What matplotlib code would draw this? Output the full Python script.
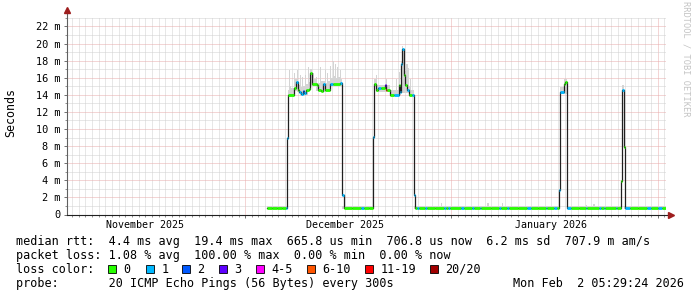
import numpy as np
import matplotlib
matplotlib.use('Agg')
import matplotlib.pyplot as plt
import matplotlib.dates as mdates
from matplotlib.collections import LineCollection
from matplotlib.patches import Rectangle
from matplotlib.ticker import FuncFormatter, MultipleLocator
import pandas as pd

plt.rcParams['font.family'] = ['DejaVu Sans Mono']

# ---------------- data ----------------
end_time = pd.Timestamp('2026-02-02 05:29:24')
start_time = end_time - pd.Timedelta(days=90)
ref_time = pd.Timestamp('2025-12-01')          # t_days are days after this instant

# median RTT (milliseconds) as steps, with number of lost pings (of 20)
t_days = [3.28, 4.0, 4.8, 5.5, 6.1, 6.33, 6.43, 7.40, 7.62, 7.88, 8.12, 8.38, 8.64, 8.90,
          9.16, 9.55, 9.74, 9.99, 10.74, 10.98, 11.34, 11.64, 11.99, 12.74, 13.2, 14.2,
          14.6, 14.8, 16.0, 17.4, 17.8, 18.6, 19.25, 19.42, 19.7, 19.95, 20.45, 20.95,
          21.12, 21.3, 21.75, 22.4, 23.1, 23.33, 23.48, 23.6, 23.82, 24.05, 24.3, 24.6,
          25.0, 25.36, 25.5, 25.8, 26.1, 27.0, 27.3, 28.5, 29.8, 30.1, 30.5, 30.7, 32.4,
          32.9, 34.1, 34.4, 35.3, 35.5, 37.0, 38.2, 38.5, 39.4, 39.6, 41.0, 42.3, 42.9,
          44.0, 45.2, 45.4, 46.4, 46.8, 47.19, 47.33, 47.88, 48.03, 48.28, 48.4, 49.0,
          50.2, 51.2, 51.4, 53.2, 53.4, 53.9, 54.1, 55.7, 55.9, 56.4, 56.55, 56.93, 57.08,
          57.8, 59.0, 60.4, 61.0, 62.0, 62.6, 63.23]
median_ms = [0.72, 0.74, 0.71, 0.73, 0.72, 8.9, 14.0, 14.8, 15.5, 14.6, 14.3, 14.05, 14.4, 14.2,
             14.6, 14.7, 16.6, 15.3, 15.1, 14.6, 14.5, 15.3, 14.6, 15.3, 15.3, 15.35,
             2.25, 0.72, 0.71, 0.73, 0.72, 0.74, 9.1, 15.3, 14.55, 14.75, 14.75, 15.1,
             14.55, 14.55, 14.0, 14.0, 15.1, 14.35, 17.6, 19.4, 16.3, 15.1, 14.55, 14.0,
             14.0, 2.3, 0.72, 0.74, 0.72, 0.73, 0.71, 0.72, 0.74, 0.72, 0.73, 0.71, 0.74,
             0.72, 0.73, 0.71, 0.73, 0.72, 0.71, 0.74, 0.72, 0.73, 0.71, 0.72, 0.74, 0.72,
             0.71, 0.73, 0.72, 0.74, 0.72, 2.9, 14.3, 15.3, 15.5, 11.8, 0.72, 0.72,
             0.71, 0.73, 0.72, 0.74, 0.71, 0.73, 0.72, 0.73, 0.72, 3.9, 14.6, 7.95, 0.72,
             0.72, 0.71, 0.73, 0.72, 0.74, 0.72, 0.72]
loss = [0, 0, 0, 0, 1, 1, 0, 0, 1, 0, 1, 1, 2, 1,
        0, 0, 0, 0, 0, 0, 0, 1, 0, 1, 0, 1,
        1, 0, 0, 1, 0, 0, 1, 0, 0, 1, 0, 3,
        8, 0, 0, 1, 0, 1, 1, 1, 0, 0, 1, 0,
        1, 1, 0, 1, 0, 1, 0, 0, 1, 0, 1, 0, 1,
        0, 1, 0, 1, 0, 0, 1, 0, 1, 0, 0, 1, 0,
        0, 1, 0, 1, 0, 1, 1, 0, 0, 0, 1, 0,
        0, 1, 0, 1, 0, 1, 0, 1, 0, 0, 1, 0, 1,
        0, 0, 1, 0, 1, 0, 0]

# smoke (spread of the 20 pings), steps
smoke_days = [3.28, 6.33, 6.43, 6.6, 6.75, 6.85, 6.95, 7.4, 7.55, 7.8, 7.95, 8.2, 8.35, 8.6,
              8.75, 8.95, 9.1, 9.45, 9.6, 9.75, 10.0, 10.2, 10.35, 10.7, 10.85, 11.3, 11.45,
              11.95, 12.1, 12.3, 12.45, 12.7, 12.85, 13.0, 13.1, 13.2, 13.35, 13.45, 13.6,
              13.8, 13.95, 14.2, 14.35, 14.6, 19.25, 19.42, 19.7, 19.85, 21.2, 21.35, 21.75,
              22.7, 22.85, 23.05, 23.2, 23.48, 23.58, 23.75, 23.9, 24.2, 24.4, 24.55, 24.8,
              24.95, 25.36, 29.4, 29.6, 36.4, 36.6, 38.6, 38.8, 47.19, 47.33, 47.88, 48.28,
              51.2, 51.4, 52.3, 52.5, 56.4, 56.55, 56.93, 63.23]
smoke_lo = [0.62, 8.8, 13.9, 13.9, 13.9, 13.9, 13.9, 14.5, 14.5, 14.3, 14.3, 13.9, 13.9, 13.9,
            13.9, 14.0, 14.0, 14.4, 14.4, 15.0, 15.0, 15.0, 15.0, 14.5, 14.4, 14.3, 14.3,
            14.4, 14.4, 14.4, 14.4, 15.0, 15.0, 15.0, 15.0, 15.0, 15.0, 15.0, 15.0,
            15.0, 15.0, 15.0, 15.0, 0.62, 9.0, 14.9, 14.3, 14.3, 14.3, 14.3, 13.9,
            13.9, 13.9, 14.0, 14.0, 14.2, 14.2, 14.2, 14.2, 14.2, 14.2, 13.9, 13.9,
            13.9, 0.62, 0.62, 0.62, 0.62, 0.62, 0.62, 0.62, 2.8, 14.1, 14.1, 0.62,
            0.62, 0.62, 0.62, 0.62, 3.8, 14.3, 0.62, 0.62]
smoke_hi = [1.0, 9.0, 14.6, 16.9, 15.0, 16.4, 14.8, 16.5, 15.8, 16.9, 15.2, 16.3, 14.9, 16.1,
            15.0, 16.3, 15.3, 17.2, 15.5, 17.0, 15.9, 16.5, 15.8, 16.1, 15.4, 17.2, 15.6,
            16.9, 15.4, 16.5, 15.6, 17.4, 16.0, 16.9, 16.0, 17.95, 16.2, 17.6, 16.0,
            17.2, 16.1, 16.95, 15.9, 1.0, 9.2, 15.8, 16.3, 15.2, 15.8, 15.1, 14.6,
            15.8, 14.6, 16.7, 15.0, 18.0, 19.7, 19.2, 16.8, 17.6, 17.1, 15.0, 15.8,
            14.6, 1.0, 1.3, 1.0, 1.3, 1.0, 1.3, 1.0, 3.0, 14.9, 15.9, 1.0,
            1.15, 1.0, 1.2, 1.0, 4.0, 15.1, 1.0, 1.0]

legend_labels = ['0', '1', '2', '3', '4-5', '6-10', '11-19', '20/20']
legend_colors = ['#26ff00', '#00b8ff', '#0059ff', '#5e00ff', '#ff00ff', '#ff5500', '#ff0000', '#a10000']
loss_upper = [0, 1, 2, 3, 5, 10, 19, 20]

month_label_dates = ['2025-11-16', '2025-12-16', '2026-01-16']
month_labels = ['November 2025', 'December 2025', 'January 2026']

stats_line1 = 'median rtt:  4.4 ms avg  19.4 ms max  665.8 us min  706.8 us now  6.2 ms sd  707.9 m am/s'
stats_line2 = 'packet loss: 1.08 % avg  100.00 % max  0.00 % min  0.00 % now'
probe_text = 'probe:       20 ICMP Echo Pings (56 Bytes) every 300s'
date_text = 'Mon Feb  2 05:29:24 2026'

# ---------------- drawing ----------------
W, H = 697, 297
fig = plt.figure(figsize=(W / 100, H / 100), dpi=100)
fig.patch.set_facecolor('white')
ax = fig.add_axes([67 / W, 1 - 214.5 / H, (666 - 67) / W, (214.5 - 17) / H])
ax.set_facecolor('white')

x0 = mdates.date2num(ref_time.to_pydatetime())
t = x0 + np.array(t_days)
m = np.array(median_ms)
ts = x0 + np.array(smoke_days)

ax.set_xlim(mdates.date2num(start_time.to_pydatetime()), mdates.date2num(end_time.to_pydatetime()))
ax.set_ylim(0, 23.1)

# grid
ax.yaxis.set_major_locator(MultipleLocator(2))
ax.yaxis.set_minor_locator(MultipleLocator(1))
ax.xaxis.set_major_locator(mdates.MonthLocator())
ax.xaxis.set_minor_locator(mdates.DayLocator())
ax.grid(which='minor', color='#d0d0d0', linestyle=(0, (1, 1)), linewidth=0.72, zorder=0)
ax.grid(which='major', color='#e8acac', linestyle=(0, (1, 1)), linewidth=0.72, zorder=0.5)
ax.set_axisbelow(True)
ax.yaxis.set_major_formatter(FuncFormatter(lambda v, p: '0' if v == 0 else f'{int(v)} m'))
ax.tick_params(axis='y', which='major', length=2, width=0.7, color='#707070', pad=3, labelsize=7.4)
ax.tick_params(axis='y', which='minor', length=1.2, width=0.7, color='#909090')
ax.tick_params(axis='x', which='major', length=2.5, width=0.7, color='#707070', labelbottom=False)
ax.tick_params(axis='x', which='minor', length=1.2, width=0.7, color='#909090')
for s in ax.spines.values():
    s.set_visible(False)

# smoke
ax.fill_between(ts, smoke_lo, smoke_hi, step='post', color='#d4d4d4', linewidth=0, zorder=2)

# median: black step + loss coloured horizontal pieces
ax.step(t, m, where='post', color='#202020', linewidth=0.9, zorder=3)


def loss_color(n):
    for up, c in zip(loss_upper, legend_colors):
        if n <= up:
            return c
    return legend_colors[-1]


segs = [[(t[i], m[i]), (t[i + 1], m[i])] for i in range(len(t) - 1)]
cols = [loss_color(loss[i]) for i in range(len(t) - 1)]
lc = LineCollection(segs, colors=cols, linewidths=2.0, capstyle='butt', zorder=4)
ax.add_collection(lc)

# axis lines with arrows
ax.plot([0, 0], [0, 1 + 5 / 197.5], transform=ax.transAxes, color='#606060', lw=0.8, clip_on=False, zorder=5)
ax.plot([0, 1 + 4 / 599], [0, 0], transform=ax.transAxes, color='#202020', lw=0.8, clip_on=False, zorder=5)
ax.plot([0], [1 + 7 / 197.5], marker='^', ms=4.5, color='#9e1e1e', transform=ax.transAxes,
        clip_on=False, zorder=6)
ax.plot([1 + 5 / 599], [0], marker='>', ms=4.5, color='#9e1e1e', transform=ax.transAxes,
        clip_on=False, zorder=6)

# month labels
for d, lab in zip(month_label_dates, month_labels):
    ax.annotate(lab, xy=(mdates.date2num(pd.Timestamp(d).to_pydatetime()), 0),
                xycoords=('data', 'axes fraction'), xytext=(0, -7.6), textcoords='offset points',
                ha='center', va='center', fontsize=7.2, color='black')

# texts
fig.text(11 / W, 1 - 113 / H, 'Seconds', rotation=90, ha='center', va='center', fontsize=8.4)
fig.text(686 / W, 1 - 59 / H, 'RRDTOOL / TOBI OETIKER', rotation=270, ha='center', va='center',
         fontsize=6.2, color='#c4c4c4')
fig.text(16 / W, 1 - 241 / H, stats_line1, ha='left', va='center', fontsize=8.5)
fig.text(16 / W, 1 - 255.5 / H, stats_line2, ha='left', va='center', fontsize=8.5)
fig.text(16 / W, 1 - 269.3 / H, 'loss color:', ha='left', va='center', fontsize=8.5)
box_x = [108, 146, 182, 219, 256, 307, 365, 430]
for bx, lab, c in zip(box_x, legend_labels, legend_colors):
    fig.add_artist(Rectangle((bx / W, 1 - 273.3 / H), 8 / W, 8 / H, transform=fig.transFigure,
                             facecolor=c, edgecolor='black', linewidth=0.6))
    fig.text((bx + 15.5) / W, 1 - 269.3 / H, lab, ha='left', va='center', fontsize=8.5)
fig.text(16 / W, 1 - 283.7 / H, probe_text, ha='left', va='center', fontsize=8.5)
fig.text(513 / W, 1 - 283.7 / H, date_text, ha='left', va='center', fontsize=8.5)

fig.savefig('out.png', dpi=100, facecolor='white')
